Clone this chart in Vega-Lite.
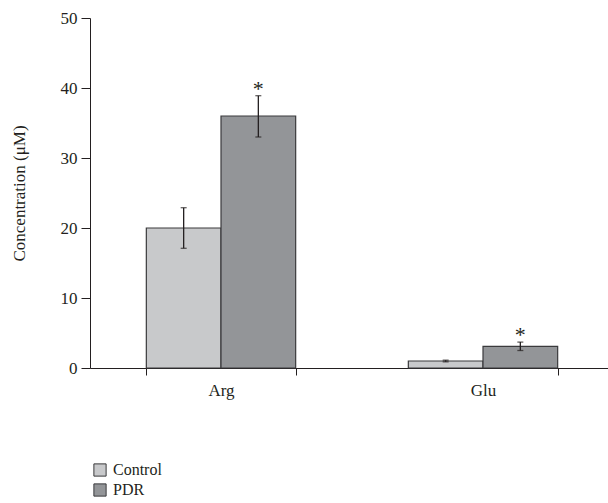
{
  "$schema": "https://vega.github.io/schema/vega-lite/v6.json",
  "width": 518,
  "height": 350,
  "autosize": {"type": "none"},
  "padding": {"left": 90, "top": 18, "right": 0, "bottom": 135},
  "background": "white",
  "config": {
    "view": {"stroke": null},
    "font": "Liberation Serif"
  },
  "data": {
    "values": [
      {"amino": "Arg", "group": "Control", "value": 20.0, "lower": 17.1, "upper": 22.9, "star": ""},
      {"amino": "Arg", "group": "PDR", "value": 36.0, "lower": 33.0, "upper": 38.9, "star": "*"},
      {"amino": "Glu", "group": "Control", "value": 1.0, "lower": 0.88, "upper": 1.12, "star": ""},
      {"amino": "Glu", "group": "PDR", "value": 3.1, "lower": 2.5, "upper": 3.7, "star": "*"}
    ]
  },
  "encoding": {
    "x": {"field": "amino", "type": "nominal", "sort": ["Arg", "Glu"],
      "scale": {"range": [0, 524], "paddingInner": 0.43, "paddingOuter": 0.215},
      "axis": {"title": null, "labelAngle": 0, "tickBand": "extent", "tickSize": 7, "labelPadding": 7, "domainWidth": 1, "grid": false,
        "labelFont": "Liberation Serif", "labelFontSize": 17, "labelColor": "#231f20", "domainColor": "#231f20", "tickColor": "#231f20"}},
    "xOffset": {"field": "group", "type": "nominal", "sort": ["Control", "PDR"], "scale": {"paddingInner": 0, "paddingOuter": 0}}
  },
  "layer": [
    {
      "mark": {"type": "bar", "stroke": "#3a3a3c", "strokeWidth": 1.2},
      "encoding": {
        "y": {"field": "value", "type": "quantitative", "scale": {"domain": [0, 50], "nice": false},
          "axis": {"title": "Concentration (μM)", "values": [0, 10, 20, 30, 40, 50], "tickSize": 9, "labelPadding": 4, "titlePadding": 32, "domainWidth": 1, "grid": false,
            "labelFont": "Liberation Serif", "labelFontSize": 17, "labelColor": "#231f20", "domainColor": "#231f20", "tickColor": "#231f20",
            "titleFont": "Liberation Serif", "titleFontSize": 17, "titleFontWeight": "normal", "titleColor": "#231f20"}},
        "fill": {"field": "group", "type": "nominal", "sort": ["Control", "PDR"],
          "scale": {"domain": ["Control", "PDR"], "range": ["#c8c9cb", "#939598"]},
          "legend": {"title": null, "orient": "none", "legendX": 2, "legendY": 444, "symbolType": "square", "symbolSize": 150, "symbolStrokeColor": "#3a3a3c", "symbolStrokeWidth": 1, "symbolOpacity": 1, "rowPadding": 2, "labelOffset": 5,
            "labelFont": "Liberation Serif", "labelFontSize": 16, "labelColor": "#231f20"}}
      }
    },
    {
      "mark": {"type": "rule", "color": "#231f20", "strokeWidth": 1.3},
      "encoding": {"y": {"field": "lower", "type": "quantitative"}, "y2": {"field": "upper"}}
    },
    {
      "mark": {"type": "tick", "color": "#231f20", "size": 6, "thickness": 1.3, "orient": "horizontal"},
      "encoding": {"y": {"field": "lower", "type": "quantitative"}}
    },
    {
      "mark": {"type": "tick", "color": "#231f20", "size": 6, "thickness": 1.3, "orient": "horizontal"},
      "encoding": {"y": {"field": "upper", "type": "quantitative"}}
    },
    {
      "mark": {"type": "text", "fontSize": 22, "font": "Liberation Serif", "color": "#231f20", "baseline": "alphabetic", "align": "center", "dy": 0},
      "encoding": {"y": {"field": "upper", "type": "quantitative"}, "text": {"field": "star"}}
    }
  ]
}
